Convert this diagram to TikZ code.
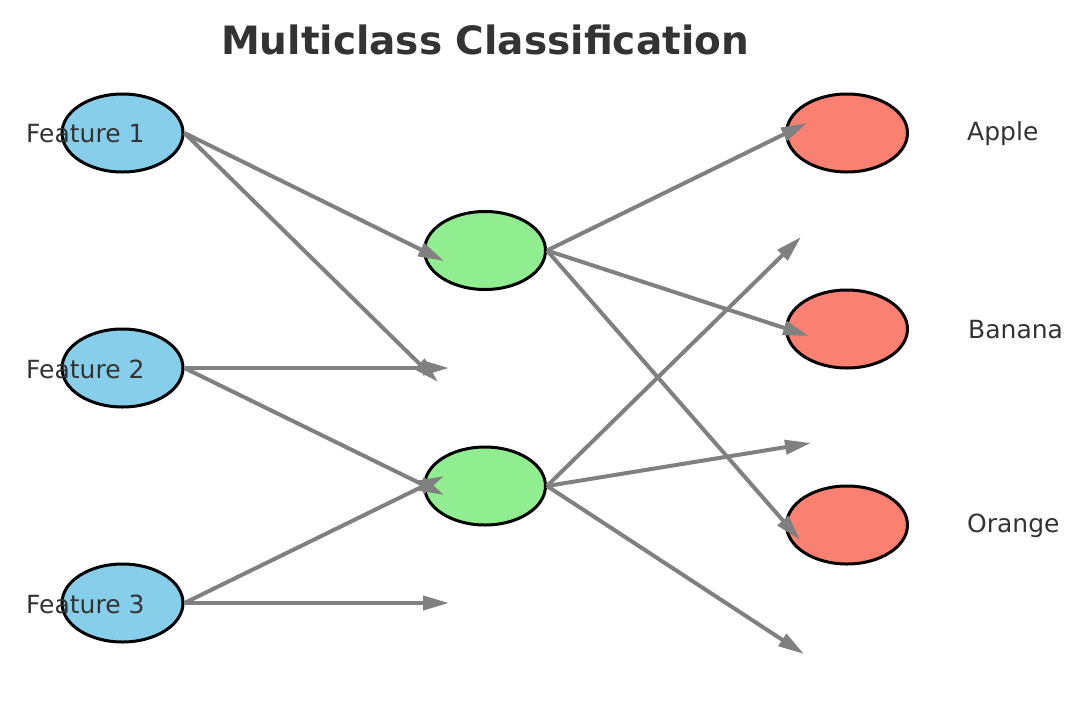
\documentclass[tikz,border=0pt]{standalone}
\usepackage{fontspec}
\setmainfont{DejaVu Sans}
\usetikzlibrary{shapes.geometric,arrows.meta}
\definecolor{inputblue}{HTML}{87CEEB}
\definecolor{hiddengreen}{HTML}{90EE90}
\definecolor{outputred}{HTML}{FA8072}
\definecolor{edgegray}{HTML}{808080}
\definecolor{labeltext}{HTML}{333333}
\tikzset{
  neuron/.style={ellipse, draw=black, line width=3pt, minimum width=121pt, minimum height=78pt, inner sep=0pt},
  inputnode/.style={neuron, fill=inputblue},
  hiddennode/.style={neuron, fill=hiddengreen},
  outputnode/.style={neuron, fill=outputred},
  link/.style={draw=edgegray, line width=4pt, -{Triangle[length=26pt,width=14pt]}},
  lbl/.style={anchor=west, inner sep=0pt, text=labeltext, font=\fontsize{25}{30}\selectfont},
  titletext/.style={text=labeltext, font=\fontsize{39}{46}\selectfont\bfseries}
}
\begin{document}
\begin{tikzpicture}[x=1pt, y=-1pt]
  \useasboundingbox (0,0) rectangle (1082,702);

  % layers
  \node[inputnode] (in1) at (122.5,133) {};
  \node[inputnode] (in2) at (122.5,368) {};
  \node[inputnode] (in3) at (122.5,603) {};
  \node[hiddennode] (h1) at (485,250.5) {};
  \node[hiddennode] (h2) at (485,486) {};
  \node[outputnode] (o1) at (847,133) {};
  \node[outputnode] (o2) at (847,329) {};
  \node[outputnode] (o3) at (847,525) {};

  % arrow tips
  \coordinate (t11) at (444,261);
  \coordinate (t12) at (438,382);
  \coordinate (t21) at (449,368);
  \coordinate (t22) at (444,495);
  \coordinate (t31) at (444,476);
  \coordinate (t32) at (449,603);
  \coordinate (u11) at (807,123);
  \coordinate (u12) at (809,336);
  \coordinate (u13) at (800,540);
  \coordinate (u21) at (801,237);
  \coordinate (u22) at (811,443);
  \coordinate (u23) at (804,654);

  % connections
  \draw[link] (in1.east) -- (t11);
  \draw[link] (in1.east) -- (t12);
  \draw[link] (in2.east) -- (t21);
  \draw[link] (in2.east) -- (t22);
  \draw[link] (in3.east) -- (t31);
  \draw[link] (in3.east) -- (t32);
  \draw[link] (h1.east) -- (u11);
  \draw[link] (h1.east) -- (u12);
  \draw[link] (h1.east) -- (u13);
  \draw[link] (h2.east) -- (u21);
  \draw[link] (h2.east) -- (u22);
  \draw[link] (h2.east) -- (u23);

  % labels
  \node[lbl] (f1) at (26,134) {Feature 1};
  \node[lbl] (f2) at (26,369) {Feature 2};
  \node[lbl] (f3) at (26,604) {Feature 3};
  \node[lbl] (c1) at (967,134) {Apple};
  \node[lbl] (c2) at (968,330) {Banana};
  \node[lbl] (c3) at (967,526) {Orange};

  \node[titletext] (title) at (485,39.5) {Multiclass Classification};
\end{tikzpicture}
\end{document}
